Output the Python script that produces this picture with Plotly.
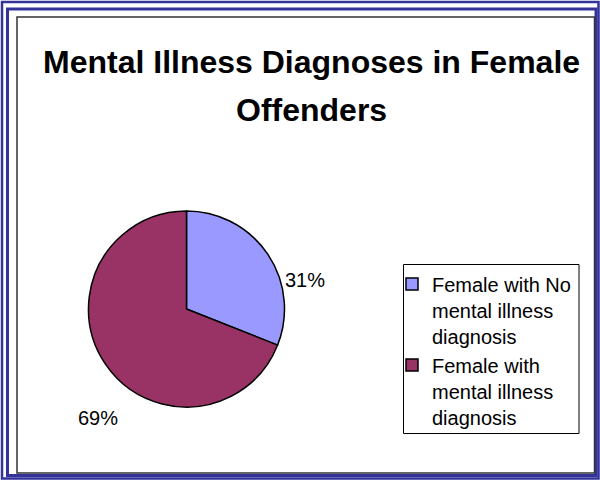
import plotly.graph_objects as go

# Chart data
labels = ["Female with No<br>mental illness<br>diagnosis",
          "Female with<br>mental illness<br>diagnosis"]
values = [31, 69]
colors = ["#9999FF", "#993366"]
title_lines = ["Mental Illness Diagnoses in Female", "Offenders"]

W, H = 600, 480


def px(x):
    return x / W


def py(y):
    return 1 - y / H


# Pie geometry (pixels)
cx, cy, r = 186.5, 309, 98

fig = go.Figure()
fig.add_trace(go.Pie(
    labels=labels,
    values=values,
    marker=dict(colors=colors, line=dict(color="#000000", width=1.5)),
    sort=False,
    direction="clockwise",
    rotation=0,
    textinfo="none",
    hoverinfo="label+percent",
    domain=dict(x=[px(cx - r), px(cx + r)], y=[py(cy + r), py(cy - r)]),
))

total = sum(values)
pct = [f"{round(v / total * 100)}%" for v in values]
label_pos = [(305, 280), (97.5, 418)]

annotations = []
for t, (lx, ly) in zip(pct, label_pos):
    annotations.append(dict(
        x=px(lx), y=py(ly), xref="paper", yref="paper",
        text=t, showarrow=False, xanchor="center", yanchor="middle",
        font=dict(family="Liberation Sans, Arial", size=20, color="#000000"),
    ))

for t, ly in zip(title_lines, [62, 110]):
    annotations.append(dict(
        x=px(311.5), y=py(ly), xref="paper", yref="paper",
        text=f"<b>{t}</b>", showarrow=False, xanchor="center", yanchor="middle",
        font=dict(family="Liberation Sans, Arial", size=32, color="#000000"),
    ))

shapes = [
    # double blue outer frame
    dict(type="rect", xref="paper", yref="paper",
         x0=px(2), x1=px(598.5), y0=py(478.5), y1=py(2),
         line=dict(color="#333399", width=2.5), fillcolor="rgba(0,0,0,0)"),
    dict(type="rect", xref="paper", yref="paper",
         x0=px(7.5), x1=px(596), y0=py(475.5), y1=py(9),
         line=dict(color="#333399", width=3), fillcolor="rgba(0,0,0,0)"),
    # chart area border
    dict(type="rect", xref="paper", yref="paper",
         x0=px(17), x1=px(594.5), y0=py(473), y1=py(17),
         line=dict(color="#333333", width=1.5), fillcolor="rgba(0,0,0,0)"),
    # legend box
    dict(type="rect", xref="paper", yref="paper",
         x0=px(403.5), x1=px(579), y0=py(433.5), y1=py(264.5),
         line=dict(color="#000000", width=1), fillcolor="rgba(0,0,0,0)"),
]

fig.update_layout(
    width=W, height=H,
    margin=dict(l=0, r=0, t=0, b=0),
    paper_bgcolor="#FFFFFF",
    plot_bgcolor="#FFFFFF",
    showlegend=True,
    legend=dict(
        x=px(392), y=py(264.5), xanchor="left", yanchor="top",
        bgcolor="rgba(0,0,0,0)", borderwidth=0,
        font=dict(family="Liberation Sans, Arial", size=20, color="#000000"),
        traceorder="normal", valign="top",
        tracegroupgap=0,
    ),
    annotations=annotations,
    shapes=shapes,
)

fig.write_html("out.html")
